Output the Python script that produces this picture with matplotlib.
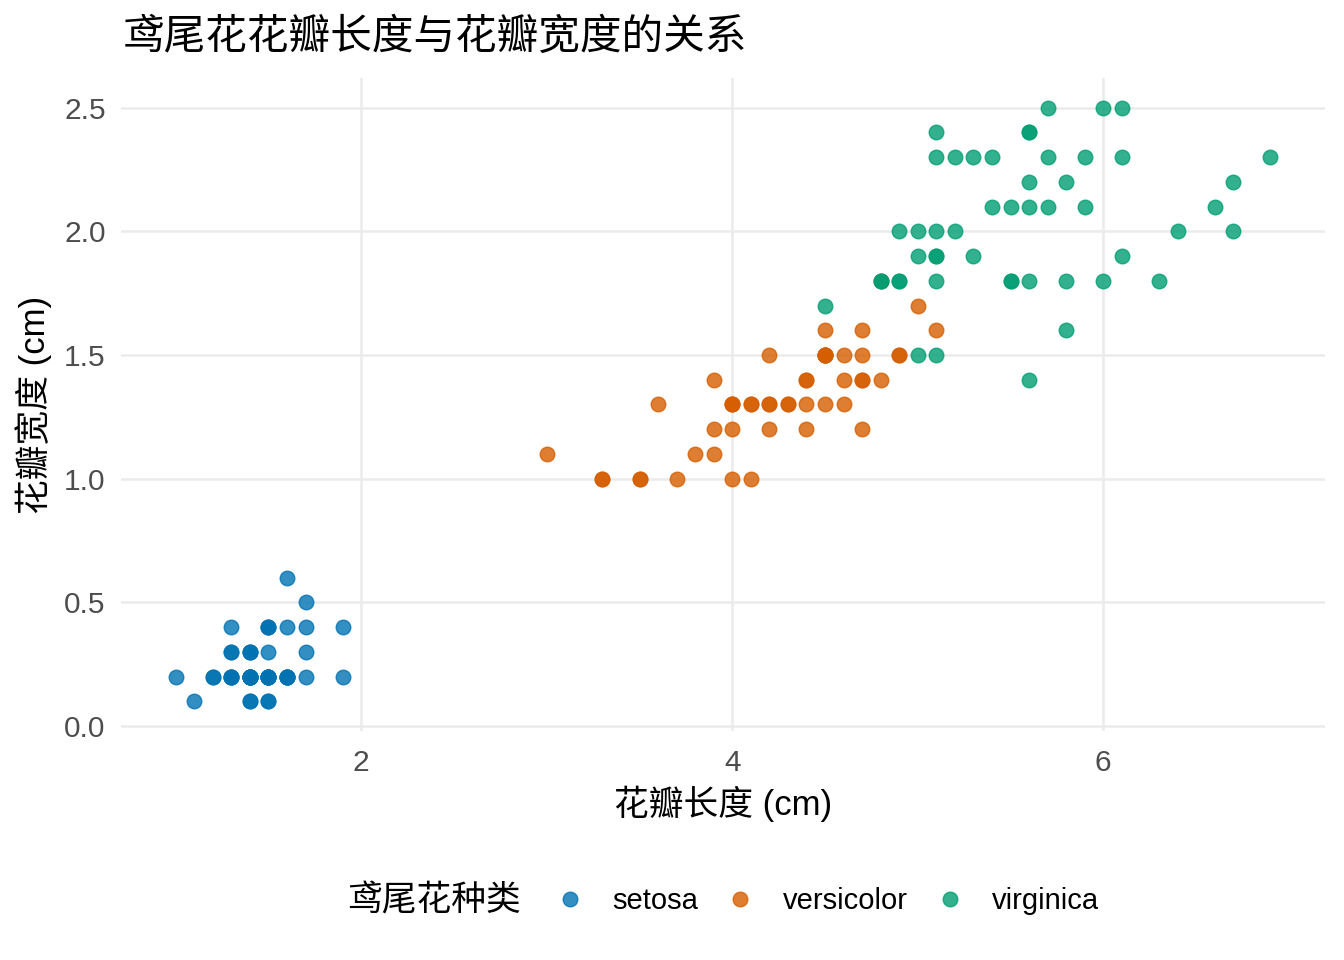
import matplotlib
matplotlib.use("Agg")
import matplotlib.pyplot as plt
from matplotlib.lines import Line2D

# ---- data (iris petal length / width) ----
species = ["setosa", "versicolor", "virginica"]
setosa_len = [1.4, 1.4, 1.3, 1.5, 1.4, 1.7, 1.4, 1.5, 1.4, 1.5, 1.5, 1.6, 1.4, 1.1, 1.2, 1.5, 1.3, 1.4, 1.7, 1.5,
              1.7, 1.5, 1.0, 1.7, 1.9, 1.6, 1.6, 1.5, 1.4, 1.6, 1.6, 1.5, 1.5, 1.4, 1.5, 1.2, 1.3, 1.4, 1.3, 1.5,
              1.3, 1.3, 1.3, 1.6, 1.9, 1.4, 1.6, 1.4, 1.5, 1.4]
setosa_wid = [0.2, 0.2, 0.2, 0.2, 0.2, 0.4, 0.3, 0.2, 0.2, 0.1, 0.2, 0.2, 0.1, 0.1, 0.2, 0.4, 0.4, 0.3, 0.3, 0.3,
              0.2, 0.4, 0.2, 0.5, 0.2, 0.2, 0.4, 0.2, 0.2, 0.2, 0.2, 0.4, 0.1, 0.2, 0.2, 0.2, 0.2, 0.1, 0.2, 0.2,
              0.3, 0.3, 0.2, 0.6, 0.4, 0.3, 0.2, 0.2, 0.2, 0.2]
versicolor_len = [4.7, 4.5, 4.9, 4.0, 4.6, 4.5, 4.7, 3.3, 4.6, 3.9, 3.5, 4.2, 4.0, 4.7, 3.6, 4.4, 4.5, 4.1, 4.5, 3.9,
                  4.8, 4.0, 4.9, 4.7, 4.3, 4.4, 4.8, 5.0, 4.5, 3.5, 3.8, 3.7, 3.9, 5.1, 4.5, 4.5, 4.7, 4.4, 4.1, 4.0,
                  4.4, 4.6, 4.0, 3.3, 4.2, 4.2, 4.2, 4.3, 3.0, 4.1]
versicolor_wid = [1.4, 1.5, 1.5, 1.3, 1.5, 1.3, 1.6, 1.0, 1.3, 1.4, 1.0, 1.5, 1.0, 1.4, 1.3, 1.4, 1.5, 1.0, 1.5, 1.1,
                  1.8, 1.3, 1.5, 1.2, 1.3, 1.4, 1.4, 1.7, 1.5, 1.0, 1.1, 1.0, 1.2, 1.6, 1.5, 1.6, 1.5, 1.3, 1.3, 1.3,
                  1.2, 1.4, 1.2, 1.0, 1.3, 1.2, 1.3, 1.3, 1.1, 1.3]
virginica_len = [6.0, 5.1, 5.9, 5.6, 5.8, 6.6, 4.5, 6.3, 5.8, 6.1, 5.1, 5.3, 5.5, 5.0, 5.1, 5.3, 5.5, 6.7, 6.9, 5.0,
                 5.7, 4.9, 6.7, 4.9, 5.7, 6.0, 4.8, 4.9, 5.6, 5.8, 6.1, 6.4, 5.6, 5.1, 5.6, 6.1, 5.6, 5.5, 4.8, 5.4,
                 5.6, 5.1, 5.1, 5.9, 5.7, 5.2, 5.0, 5.2, 5.4, 5.1]
virginica_wid = [2.5, 1.9, 2.1, 1.8, 2.2, 2.1, 1.7, 1.8, 1.8, 2.5, 2.0, 1.9, 2.1, 2.0, 2.4, 2.3, 1.8, 2.2, 2.3, 1.5,
                 2.3, 2.0, 2.0, 1.8, 2.1, 1.8, 1.8, 1.8, 2.1, 1.6, 1.9, 2.0, 2.2, 1.5, 1.4, 2.3, 2.4, 1.8, 1.8, 2.1,
                 2.4, 2.3, 1.9, 2.3, 2.5, 2.3, 1.9, 2.0, 2.3, 1.8]
x_ticks = [2, 4, 6]
y_ticks = [0.0, 0.5, 1.0, 1.5, 2.0, 2.5]
y_ticklabels = ["0.0", "0.5", "1.0", "1.5", "2.0", "2.5"]

colors = ["#0072B2", "#D55E00", "#009E73"]
FAM = ["Liberation Sans", "Noto Sans CJK SC", "DejaVu Sans"]
plt.rcParams["font.family"] = FAM

fig = plt.figure(figsize=(13.44, 9.6), dpi=100)
ax = fig.add_axes([121 / 1344, 1 - 731 / 960, (1325 - 121) / 1344, (731 - 78) / 960])

series = [(setosa_len, setosa_wid), (versicolor_len, versicolor_wid), (virginica_len, virginica_wid)]
for (xs, ys), c in zip(series, colors):
    ax.scatter(xs, ys, s=110, color=c, alpha=0.8, edgecolors=c, linewidths=1.0, zorder=3)

# ggplot-style 5% expansion
allx = setosa_len + versicolor_len + virginica_len
xr = max(allx) - min(allx)
ax.set_xlim(min(allx) - 0.05 * xr, max(allx) + 0.05 * xr)
ax.set_ylim(-0.02, 2.62)

ax.set_xticks(x_ticks)
ax.set_xticklabels([str(t) for t in x_ticks])
ax.set_yticks(y_ticks)
ax.set_yticklabels(y_ticklabels)
ax.tick_params(axis="both", length=0, labelsize=21.5, labelcolor="#4D4D4D")
ax.tick_params(axis="x", pad=13)
ax.tick_params(axis="y", pad=11)
for s in ax.spines.values():
    s.set_visible(False)
ax.grid(True, color="#EBEBEB", linewidth=1.8, zorder=0)
ax.set_axisbelow(True)

ax.set_xlabel("花瓣长度 (cm)", fontsize=25, color="black", labelpad=6)
ax.set_ylabel("花瓣宽度 (cm)", fontsize=25, color="black", labelpad=9)

fig.text(123 / 1344, 1 - 38 / 960, "鸢尾花花瓣长度与花瓣宽度的关系", fontsize=30,
         ha="left", va="center", color="black")

# legend
fig.text(347 / 1344, 1 - 901 / 960, "鸢尾花种类", fontsize=25, ha="left", va="center", color="black")
handles = [Line2D([], [], linestyle="none", marker="o", markersize=10.5, color=c, alpha=0.8,
                  markeredgecolor=c, markeredgewidth=1.0) for c in colors]
fig.legend(handles, species, loc="center left", bbox_to_anchor=(558 / 1344, 1 - 901 / 960),
           ncol=3, frameon=False, fontsize=21, handlelength=0.8, handletextpad=1.05,
           columnspacing=1.05, borderpad=0, borderaxespad=0)

fig.savefig("out.png", dpi=100, facecolor="white")
